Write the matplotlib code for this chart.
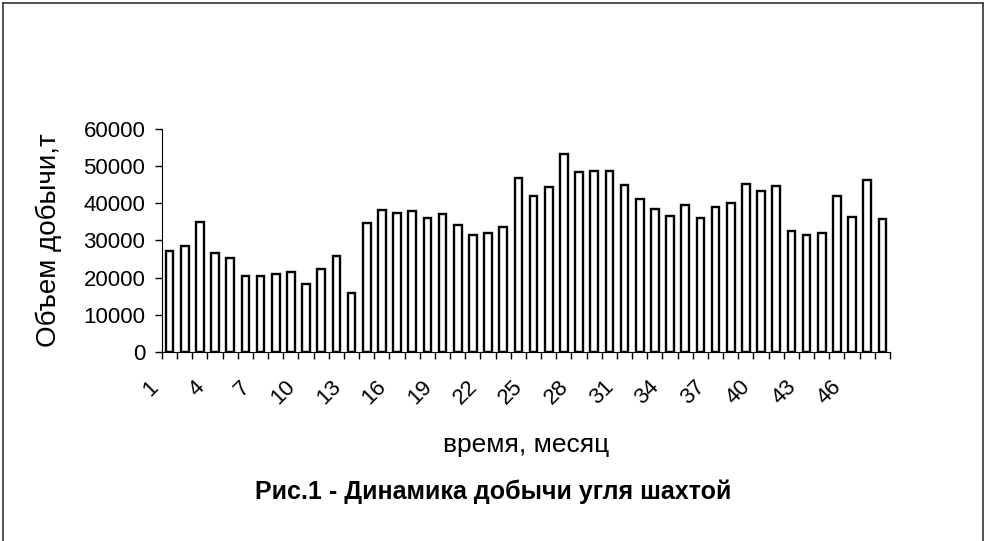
import matplotlib.pyplot as plt
from matplotlib.lines import Line2D
import matplotlib.transforms as mtransforms

plt.rcParams['font.family'] = ['Liberation Sans', 'DejaVu Sans']

# месяцы 1..48
months = list(range(1, 49))
volumes = [27100, 28400, 35100, 26500, 25300, 20500, 20500, 20900, 21400, 18200,
           22200, 25700, 16000, 34700, 38300, 37300, 37900, 36000, 37100, 34100,
           31500, 31900, 33600, 46800, 42100, 44500, 53200, 48300, 48600, 48800,
           45000, 41100, 38500, 36700, 39500, 36000, 39100, 40000, 45100, 43200,
           44600, 32500, 31400, 32000, 42100, 36200, 46200, 35900]
y_ticks = [0, 10000, 20000, 30000, 40000, 50000, 60000]

fig = plt.figure(figsize=(9.86, 5.41), dpi=100)
ax = fig.add_axes([0.1643, 0.3494, 0.7383, 0.4122])

x = list(range(len(months)))
ax.bar(x, volumes, width=0.5, color='white', edgecolor='black', linewidth=1.7)

ax.set_xlim(-0.5, len(months) - 0.5)
ax.set_ylim(0, 60000)
ax.set_yticks(y_ticks)
ax.set_yticklabels([str(v) for v in y_ticks], fontsize=16)

# подписи каждого третьего месяца
ax.set_xticks(x[::3])
ax.set_xticklabels([str(m) for m in months[::3]], fontsize=16,
                   rotation=45, ha='right', va='center', rotation_mode='anchor')
ax.tick_params(axis='x', which='major', length=0, pad=23)
ax.set_xticks([i - 0.5 for i in range(len(months) + 1)], minor=True)
ax.tick_params(axis='x', which='minor', length=5, width=1, direction='out')
ax.tick_params(axis='y', length=5, width=1, direction='out', pad=7)

offset = mtransforms.ScaledTranslation(-10 / 72, 0, fig.dpi_scale_trans)
for lbl in ax.get_xticklabels():
    lbl.set_transform(lbl.get_transform() + offset)

ax.spines['top'].set_visible(False)
ax.spines['right'].set_visible(False)

ax.set_ylabel('Объем добычи,т', fontsize=20, va='center')
ax.yaxis.set_label_coords(-0.155, 0.5)
ax.set_xlabel('время, месяц', fontsize=19, va='center')
ax.xaxis.set_label_coords(0.5, -0.415)

fig.text(0.5, 0.0906, 'Рис.1 - Динамика добычи угля шахтой', ha='center', va='center',
         fontsize=18, fontweight='bold')

# рамка вокруг рисунка (без нижней стороны)
for xs, ys in [([0.003, 0.003], [0.0, 0.995]), ([0.003, 0.997], [0.995, 0.995]),
               ([0.997, 0.997], [0.0, 0.995])]:
    fig.add_artist(Line2D(xs, ys, transform=fig.transFigure, color='#333333', linewidth=1.2))

fig.savefig('out.png', dpi=100)
